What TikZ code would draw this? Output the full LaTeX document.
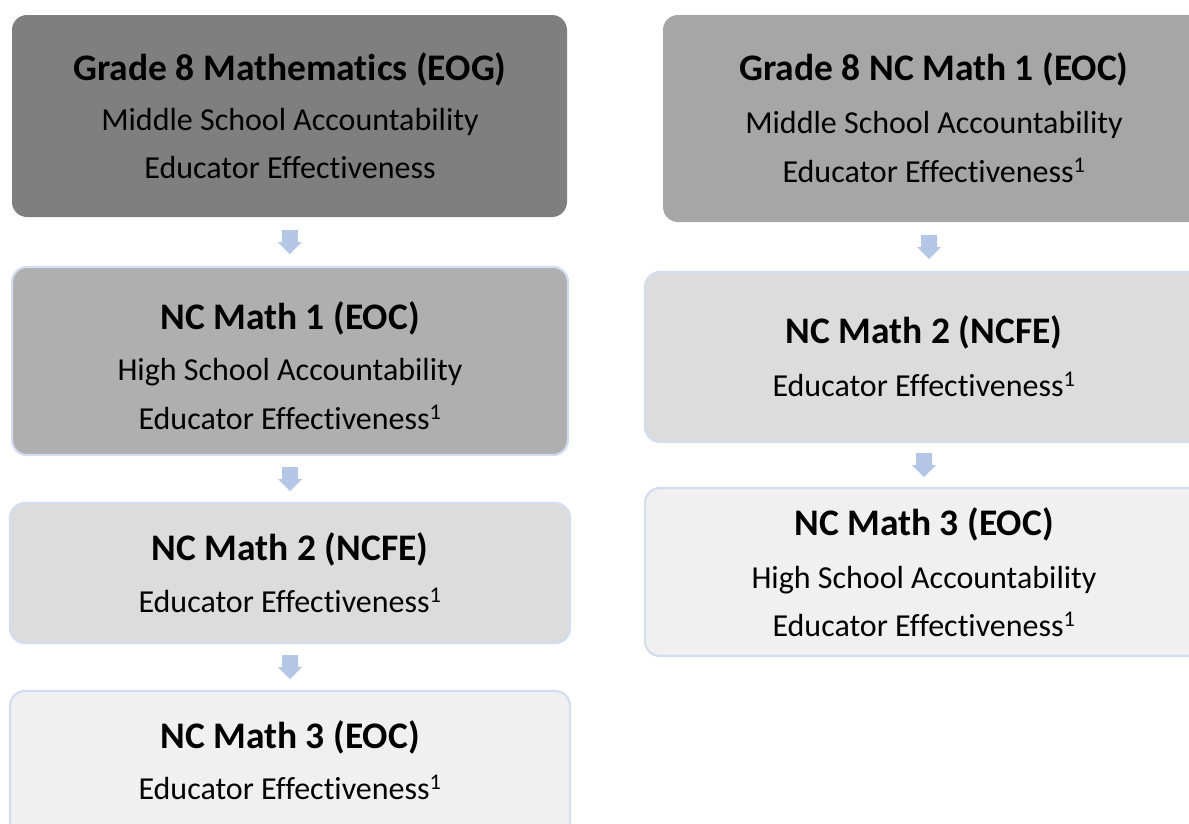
\documentclass[tikz,border=0pt]{standalone}
\usepackage{fontspec}
\setmainfont{Carlito}[Ligatures=CommonOff]
\usetikzlibrary{calc}
\definecolor{gA}{HTML}{7F7F7F}
\definecolor{gB}{HTML}{AFAFAF}
\definecolor{gBr}{HTML}{A6A6A6}
\definecolor{gC}{HTML}{DCDCDC}
\definecolor{gD}{HTML}{F0F0F0}
\definecolor{edge}{HTML}{D2DEEF}
\definecolor{arrowc}{HTML}{B4C7E7}
\tikzset{
  box/.style={rectangle, rounded corners=15pt, inner sep=0pt, outer sep=0pt},
  bluebox/.style={box, draw=edge, line width=2.2pt},
  ttl/.style={anchor=base, inner sep=0pt, font=\fontsize{37.5}{44}\selectfont\bfseries},
  txt/.style={anchor=base, inner sep=0pt, font=\fontsize{32}{38}\selectfont},
  pics/downarrow/.style={code={
    \fill[arrowc] (-8,-12) -- (8,-12) -- (8,0) -- (12,0) -- (0,12) -- (-12,0) -- (-8,0) -- cycle;
  }}
}
\newcommand{\sone}{\textsuperscript{1}}
\begin{document}
\begin{tikzpicture}[x=1pt,y=-1pt]
\useasboundingbox (0,0) rectangle (1189,823);
\begin{scope}
\clip (0,0) rectangle (1189,823);
% left column
\node[box, fill=gA, minimum width=555pt, minimum height=202pt] (L1) at (289.5,116) {};
\node[bluebox, fill=gB, minimum width=556pt, minimum height=188pt] (L2) at (290,361) {};
\node[bluebox, fill=gC, minimum width=560pt, minimum height=140pt] (L3) at (290,573) {};
\node[bluebox, fill=gD, minimum width=560pt, minimum height=164pt] (L4) at (290,773) {};
% right column
\node[box, fill=gBr, minimum width=542pt, minimum height=207pt] (R1) at (934,118.5) {};
\node[bluebox, fill=gC, minimum width=558pt, minimum height=170pt] (R2) at (924,357) {};
\node[bluebox, fill=gD, minimum width=558pt, minimum height=168pt] (R3) at (924,572) {};
\end{scope}
% texts left
\node[ttl] (L1a) at (290,80) {Grade 8 Mathematics (EOG)};
\node[txt] (L1b) at (290,130) {Middle School Accountability};
\node[txt] (L1c) at (290,178) {Educator Effectiveness};
\node[ttl] (L2a) at (290,329) {NC Math 1 (EOC)};
\node[txt] (L2b) at (290,380) {High School Accountability};
\node[txt] (L2c) at (290,429) {Educator Effectiveness\sone};
\node[ttl] (L3a) at (290,560) {NC Math 2 (NCFE)};
\node[txt] (L3b) at (290,612) {Educator Effectiveness\sone};
\node[ttl] (L4a) at (290,748) {NC Math 3 (EOC)};
\node[txt] (L4b) at (290,799) {Educator Effectiveness\sone};
% texts right
\node[ttl] (R1a) at (934,80) {Grade 8 NC Math 1 (EOC)};
\node[txt] (R1b) at (934,133) {Middle School Accountability};
\node[txt] (R1c) at (934,182) {Educator Effectiveness\sone};
\node[ttl] (R2a) at (924,343) {NC Math 2 (NCFE)};
\node[txt] (R2b) at (924,396) {Educator Effectiveness\sone};
\node[ttl] (R3a) at (924,535) {NC Math 3 (EOC)};
\node[txt] (R3b) at (924,588) {High School Accountability};
\node[txt] (R3c) at (924,636) {Educator Effectiveness\sone};
% arrows
\path ($(L1.south)!0.5!(L2.north)$) pic {downarrow};
\path ($(L2.south)!0.5!(L3.north)$) pic {downarrow};
\path ($(L3.south)!0.5!(L4.north)$) pic {downarrow};
\path ($(R1.south)!0.5!(R2.north)$) pic {downarrow};
\path ($(R2.south)!0.5!(R3.north)$) pic {downarrow};
\end{tikzpicture}
\end{document}
